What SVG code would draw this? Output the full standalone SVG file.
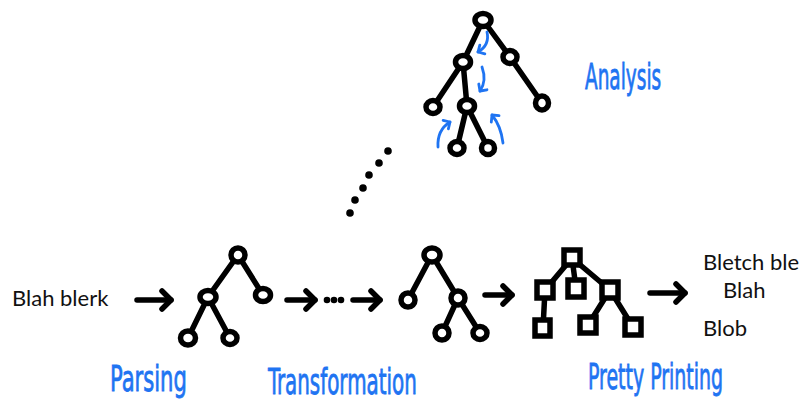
<svg xmlns="http://www.w3.org/2000/svg" width="805" height="406" viewBox="0 0 805 406">
  <style>
    .edge { stroke: #000; stroke-width: 5.5; stroke-linecap: round; fill: none; }
    .node { fill: #fff; stroke: #000; stroke-width: 5.5; }
    .flow { stroke: #000; stroke-width: 5.5; stroke-linecap: round; fill: none; marker-end: url(#head); }
    .walk { stroke: #1f74f2; stroke-width: 2.8; stroke-linecap: round; fill: none; marker-end: url(#bluehead); }
    .dot { fill: #000; }
    .plain { font-family: Lato, "Open Sans", "Liberation Sans", sans-serif; font-size: 22px; fill: #111; }
    .hand { font-family: "DejaVu Sans Condensed", "DejaVu Sans", sans-serif; font-size: 35px; fill: #1f74f2; stroke: #1f74f2; stroke-width: 0.8; }
  </style>
  <defs>
    <marker id="head" markerUnits="userSpaceOnUse" markerWidth="18" markerHeight="24" refX="12" refY="11" orient="auto" overflow="visible">
      <path d="M3,2 L12,11 L3,20" fill="none" stroke="#000" stroke-width="5.5" stroke-linecap="round" stroke-linejoin="round"/>
    </marker>
    <marker id="bluehead" markerUnits="userSpaceOnUse" markerWidth="12" markerHeight="12" refX="6" refY="6" orient="auto" overflow="visible">
      <path d="M1,1 L6,6 L1,11" fill="none" stroke="#1f74f2" stroke-width="2.8" stroke-linecap="round" stroke-linejoin="round"/>
    </marker>
  </defs>

  <!-- connectors: tree edges and pipeline arrows -->
  <g id="connectors">
    <!-- analysis tree -->
    <path class="edge" d="M483,20 L463,62 M483,20 L510,57 M463,62 L433,107 M463,62 L467,106 M510,57 L542,103 M467,106 L457,148 M467,106 L488,148"/>
    <!-- parse tree -->
    <path class="edge" d="M238,255 L208,297 M238,255 L263,295 M208,297 L188,338 M208,297 L230,338"/>
    <!-- transformed tree -->
    <path class="edge" d="M432,255 L408,300 M432,255 L458,298 M458,298 L442,333 M458,298 L480,333"/>
    <!-- printing tree -->
    <path class="edge" d="M572,258 L545,290 M572,258 L576,288 M572,258 L610,290 M545,290 L543,328 M610,290 L588,325 M610,290 L633,327"/>
    <!-- pipeline arrows -->
    <line class="flow" x1="137" y1="300" x2="171" y2="300"/>
    <line class="flow" x1="287" y1="300" x2="315" y2="300"/>
    <line class="flow" x1="353" y1="300" x2="380" y2="300"/>
    <line class="flow" x1="485" y1="295" x2="512" y2="295"/>
    <line class="flow" x1="650" y1="293" x2="685" y2="293"/>
    <!-- traversal hints -->
    <path class="walk" d="M487,32 Q490,45 478,52"/>
    <path class="walk" d="M482,67 Q487,81 480,91"/>
    <path class="walk" d="M438,147 Q437,130 450,122"/>
    <path class="walk" d="M503,143 Q501,126 492,115"/>
    <!-- ellipsis dots -->
    <circle class="dot" cx="327" cy="300" r="3.3"/>
    <circle class="dot" cx="334" cy="300" r="3.3"/>
    <circle class="dot" cx="341" cy="300" r="3.3"/>
    <circle class="dot" cx="388" cy="151" r="3.8"/>
    <circle class="dot" cx="379" cy="163" r="3.8"/>
    <circle class="dot" cx="369" cy="175" r="3.8"/>
    <circle class="dot" cx="363" cy="188" r="3.8"/>
    <circle class="dot" cx="355" cy="200" r="3.8"/>
    <circle class="dot" cx="350" cy="213" r="3.8"/>
  </g>

  <!-- analysis tree nodes -->
  <g id="analysis-tree">
    <ellipse class="node" cx="483" cy="20" rx="8" ry="6.5"/>
    <ellipse class="node" cx="463" cy="62" rx="7.5" ry="6.5"/>
    <ellipse class="node" cx="510" cy="57" rx="7" ry="6.5"/>
    <ellipse class="node" cx="433" cy="107" rx="7" ry="6.5"/>
    <ellipse class="node" cx="467" cy="106" rx="7.5" ry="6.5"/>
    <ellipse class="node" cx="542" cy="103" rx="6.5" ry="7"/>
    <ellipse class="node" cx="457" cy="148" rx="7" ry="6.5"/>
    <ellipse class="node" cx="488" cy="148" rx="6.5" ry="6.5"/>
  </g>

  <!-- parse tree nodes -->
  <g id="parse-tree">
    <ellipse class="node" cx="238" cy="255" rx="7" ry="7"/>
    <ellipse class="node" cx="208" cy="297" rx="8" ry="6.5"/>
    <ellipse class="node" cx="263" cy="295" rx="7.5" ry="6.5"/>
    <ellipse class="node" cx="188" cy="338" rx="7.5" ry="7"/>
    <ellipse class="node" cx="230" cy="338" rx="7" ry="6.5"/>
  </g>

  <!-- transformed tree nodes -->
  <g id="transformed-tree">
    <ellipse class="node" cx="432" cy="255" rx="8" ry="7"/>
    <ellipse class="node" cx="408" cy="300" rx="7" ry="7"/>
    <ellipse class="node" cx="458" cy="298" rx="7" ry="7"/>
    <ellipse class="node" cx="442" cy="333" rx="7" ry="7"/>
    <ellipse class="node" cx="480" cy="333" rx="7" ry="6.5"/>
  </g>

  <!-- printing tree nodes -->
  <g id="printing-tree">
    <rect class="node" x="564" y="250" width="16" height="15"/>
    <rect class="node" x="537" y="282" width="16" height="16"/>
    <rect class="node" x="568" y="280" width="16" height="17"/>
    <rect class="node" x="602" y="282" width="16" height="16"/>
    <rect class="node" x="535" y="320" width="15" height="16"/>
    <rect class="node" x="580" y="317" width="16" height="16"/>
    <rect class="node" x="625" y="319" width="16" height="16"/>
  </g>

  <!-- source text and printed output -->
  <g id="source-text">
    <text class="plain" x="12" y="306">Blah blerk</text>
  </g>
  <g id="printed-output">
    <text class="plain" x="703" y="270">Bletch ble</text>
    <text class="plain" x="723" y="298">Blah</text>
    <text class="plain" x="703" y="336">Blob</text>
  </g>

  <!-- stage labels, narrowed horizontally -->
  <g id="labels">
    <text class="hand" transform="translate(585,89) scale(0.6,1)" textLength="127" lengthAdjust="spacingAndGlyphs">Analysis</text>
    <text class="hand" transform="translate(110,391) scale(0.62,1)" textLength="124" lengthAdjust="spacingAndGlyphs">Parsing</text>
    <text class="hand" transform="translate(268,394) scale(0.62,1)" textLength="240" lengthAdjust="spacingAndGlyphs">Transformation</text>
    <text class="hand" transform="translate(588,389) scale(0.62,1)" textLength="218" lengthAdjust="spacingAndGlyphs">Pretty Printing</text>
  </g>
</svg>
